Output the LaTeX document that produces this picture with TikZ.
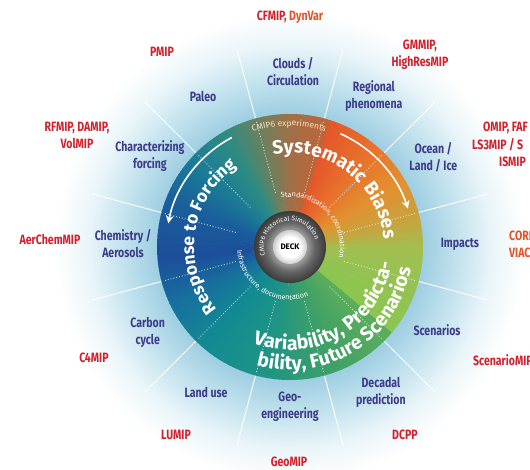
\documentclass[tikz,border=0pt]{standalone}
\usepackage{fontspec}
\setmainfont{Fira Sans}
\newfontfamily\labelfont{Fira Sans}[FakeStretch=0.78]
\usetikzlibrary{arrows.meta, decorations.text}

\definecolor{themeblue}{HTML}{3D3C8A}
\definecolor{mipred}{HTML}{D2202C}
\definecolor{miporange}{HTML}{E0542A}
\definecolor{haloA}{HTML}{9CCDE1}
\definecolor{haloB}{HTML}{C4E3EE}
\definecolor{haloC}{HTML}{EAF5F9}
\definecolor{hubA}{HTML}{3A3A3A}
\definecolor{hubB}{HTML}{9A9A9A}
\definecolor{hubC}{HTML}{666666}
\definecolor{cmiptext}{HTML}{F7E1BC}
% wheel colours, light fan
\definecolor{lfA}{HTML}{8BC650}
\definecolor{lfB}{HTML}{93C352}
\definecolor{lfC}{HTML}{A3BE50}
\definecolor{lfD}{HTML}{C7A43F}
\definecolor{lfE}{HTML}{E3902F}
\definecolor{lfF}{HTML}{E8722C}
\definecolor{lfG}{HTML}{E4572A}
% wheel colours, dark fan
\definecolor{dfA}{HTML}{BE6438}
\definecolor{dfB}{HTML}{A07048}
\definecolor{dfC}{HTML}{6A8160}
\definecolor{dfD}{HTML}{2E8C83}
\definecolor{dfE}{HTML}{1A7B96}
\definecolor{dfF}{HTML}{1A5E9C}
\definecolor{dfG}{HTML}{1C4E99}
\definecolor{dfH}{HTML}{176F9E}
\definecolor{dfI}{HTML}{128A92}
\definecolor{dfJ}{HTML}{1F9585}
\definecolor{dfK}{HTML}{3FA067}
\definecolor{dfL}{HTML}{5DAE5A}

% 25bp is the rim of the shaded circle
\pgfdeclareradialshading{halo}{\pgfpoint{0bp}{0bp}}{color(0bp)=(haloA); color(14bp)=(haloA); color(18bp)=(haloB); color(21.5bp)=(haloC); color(25bp)=(white); color(50bp)=(white)}
\pgfdeclareradialshading{hubring}{\pgfpoint{0bp}{0bp}}{color(0bp)=(hubB); color(12bp)=(hubB); color(17bp)=(hubC); color(25bp)=(hubA); color(50bp)=(hubA)}
\pgfdeclareradialshading{hubcore}{\pgfpoint{0bp}{0bp}}{color(0bp)=(white); color(15bp)=(white); color(25bp)=(black!20); color(50bp)=(black!20)}

\tikzset{
    theme/.style={font=\labelfont\bfseries\fontsize{13.5}{17}\selectfont, text=themeblue, align=center, inner sep=1pt},
    mip/.style={font=\labelfont\bfseries\fontsize{13.5}{17}\selectfont, text=mipred, align=center, inner sep=1pt},
    spoke/.style={white, line width=0.9pt},
    dotline/.style={white, opacity=0.75, line width=0.9pt, dash pattern=on 0.9pt off 2pt},
    flowarrow/.style={white, line width=1.6pt, -{Stealth[length=8pt, width=8pt]}},
}

\begin{document}
\begin{tikzpicture}[x=1pt, y=1pt]
    \useasboundingbox (-290,-223) rectangle (240,247);

    % Draw the halo behind the wheel
    \shade[shading=halo] (0,0) circle (235);

    % Draw the spokes between the themes
    \foreach \ang in {15,45,...,345}
        \draw[spoke] (\ang:133) -- (\ang:205);

    % Draw the coloured wheel, one thin wedge at a time
    \foreach \a/\b/\ca/\cb in {72/90/dfA/dfB, 90/105/dfB/dfC, 105/120/dfC/dfD, 120/140/dfD/dfE,
            140/160/dfE/dfF, 160/185/dfF/dfG, 185/205/dfG/dfH, 205/230/dfH/dfI, 230/260/dfI/dfJ,
            260/290/dfJ/dfK, 290/320/dfK/dfL,
            -40/-20/lfA/lfB, -20/0/lfB/lfC, 0/12/lfC/lfD, 12/30/lfD/lfE, 30/50/lfE/lfF, 50/72/lfF/lfG}{
        \foreach \i in {0,...,11}{
            \pgfmathsetmacro\s{\a+(\b-\a)*\i/12}
            \pgfmathsetmacro\e{\a+(\b-\a)*(\i+1)/12+0.5}
            \pgfmathsetmacro\p{100*(\i+0.5)/12}
            \fill[\cb!\p!\ca] (0,0) -- (\s:133) arc[start angle=\s, end angle=\e, radius=133] -- cycle;
        }
    }

    % Dotted lines inside the wheel
    \foreach \ang in {15,45,...,345}
        \draw[dotline] (\ang:56) -- (\ang:131);

    % Draw the hub
    \shade[shading=hubring] (0,0) circle (36);
    \shade[shading=hubcore] (0,0) circle (17);
    \node[font=\bfseries\fontsize{8}{9}\selectfont] (deck) at (0,0) {DECK};

    % Arrows round the wheel
    \draw[flowarrow] (66:124) arc[start angle=66, end angle=18, radius=124];
    \draw[flowarrow] (118:124) arc[start angle=118, end angle=169, radius=124];

    % Texts along the arcs
    \path[decorate, decoration={text along path, text align=center, text color=white,
        text={|\bfseries\fontsize{19}{19}\selectfont|Systematic Biases}}]
        (140:94) arc[start angle=140, end angle=-35, radius=94];
    \path[decorate, decoration={text along path, text align=center, text color=white,
        text={|\bfseries\fontsize{17.5}{18}\selectfont|Response to Forcing}}]
        (262:96) arc[start angle=262, end angle=82, radius=96];
    \path[decorate, decoration={text along path, text align=center, text color=white,
        text={|\bfseries\fontsize{19.5}{20}\selectfont|Variability, Predicta-}}]
        (-150:103) arc[start angle=-150, end angle=30, radius=103];
    \path[decorate, decoration={text along path, text align=center, text color=white,
        text={|\bfseries\fontsize{19.5}{20}\selectfont|bility, Future Scenarios}}]
        (-148:123) arc[start angle=-148, end angle=32, radius=123];
    \path[decorate, decoration={text along path, text align=center, text color=cmiptext,
        text={|\fontsize{8.5}{9}\selectfont|CMIP6 experiments}}]
        (150:121) arc[start angle=150, end angle=31, radius=121];
    \path[decorate, decoration={text along path, text align=center, text color=white,
        text={|\fontsize{7.2}{8}\selectfont|Standardization, coordination}}]
        (134:50) arc[start angle=134, end angle=-46, radius=50];
    \path[decorate, decoration={text along path, text align=center, text color=white,
        text={|\fontsize{7.2}{8}\selectfont|Infrastructure, documentation}}]
        (147:53) arc[start angle=147, end angle=327, radius=53];
    \path[decorate, decoration={text along path, text align=center, text color=white,
        text={|\fontsize{6.6}{7}\selectfont|CMIP6 Historical Simulation}}]
        (227:26) arc[start angle=227, end angle=-13, radius=26];

    % Themes round the wheel
    \foreach \ang/\rad/\name/\txt in {89/175/clouds/{Clouds /\\Circulation}, 61/173/regional/{Regional\\phenomena},
            32/169/ocean/{Ocean /\\Land / Ice}, 1/170/impacts/Impacts, -29.5/169/scenarios/Scenarios,
            -58/171.5/decadal/{Decadal\\prediction}, -90/160/geo/{Geo-\\engineering}, -120/168/landuse/{Land use},
            -149/166/carbon/{Carbon\\cycle}, 179/167/chemistry/{Chemistry /\\Aerosols},
            147/167/forcing/{Characterizing\\forcing}, 120/174/paleo/Paleo}
        \node[theme] (\name) at (\ang:\rad) {\txt};

    % MIPs outside the themes
    \node[mip] (cfmip) at (0,230) {CFMIP, \textcolor{miporange}{DynVar}};
    \node[mip] (gmmip) at (130,192) {GMMIP,\\HighResMIP};
    \node[mip] (pmip) at (-128,195) {PMIP};
    \node[mip] (rfmip) at (-213,112) {RFMIP, DAMIP,\\VolMIP};
    \node[mip, anchor=west] (omip) at (192,119) {OMIP, FAF};
    \node[mip, anchor=west] (ls3mip) at (181,102) {LS3MIP / S};
    \node[mip, anchor=west] (ismip) at (208,85) {ISMIP};
    \node[mip, text=miporange, anchor=west] (cordex) at (218,11) {CORD};
    \node[mip, text=miporange, anchor=west] (viacs) at (218,-6) {VIAC};
    \node[mip, anchor=west] (scenariomip) at (182,-113) {ScenarioMIP};
    \node[mip] (dcpp) at (115,-188) {DCPP};
    \node[mip] (geomip) at (-1,-215) {GeoMIP};
    \node[mip] (lumip) at (-114,-188) {LUMIP};
    \node[mip] (c4mip) at (-196,-111) {C4MIP};
    \node[mip] (aerchemmip) at (-240,7) {AerChemMIP};
\end{tikzpicture}
\end{document}
